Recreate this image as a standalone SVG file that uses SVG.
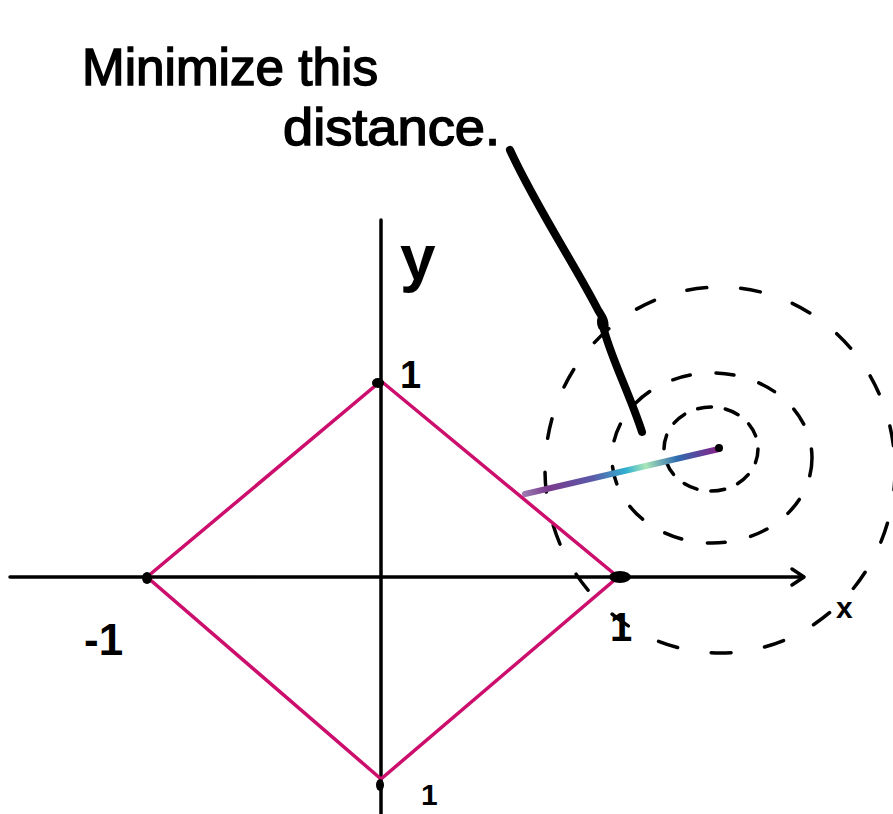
<svg xmlns="http://www.w3.org/2000/svg" width="893" height="814" viewBox="0 0 893 814">
<style>
.hand{font-family:"Liberation Sans","DejaVu Sans",sans-serif;fill:#000;}
.lbl{font-weight:bold;}
.axis{stroke:#000;stroke-width:3.5;fill:none;stroke-linecap:round;stroke-linejoin:round;}
.dash{stroke:#000;stroke-width:3.5;fill:none;stroke-linecap:round;}
.diamond{stroke:#cc0e6c;stroke-width:3.5;fill:none;stroke-linejoin:miter;}
</style>
<defs>
<linearGradient id="galaxy" gradientUnits="userSpaceOnUse" x1="524" y1="494" x2="720" y2="448">
<stop offset="0" stop-color="#9a7ab0"/>
<stop offset="0.12" stop-color="#7a3a8e"/>
<stop offset="0.35" stop-color="#5a5aa8"/>
<stop offset="0.52" stop-color="#30b0d0"/>
<stop offset="0.62" stop-color="#a8e6b8"/>
<stop offset="0.78" stop-color="#2e6cb0"/>
<stop offset="1" stop-color="#8a1e86"/>
</linearGradient>
</defs>
<rect width="893" height="814" fill="#fff"/>

<g id="title">
<text class="hand" x="82" y="85" font-size="52" stroke="#000" stroke-width="1.5" textLength="296" lengthAdjust="spacingAndGlyphs">Minimize this</text>
<text class="hand" x="283" y="145" font-size="52" stroke="#000" stroke-width="1.5" textLength="217" lengthAdjust="spacingAndGlyphs">distance.</text>
</g>

<g id="level-sets">
<ellipse class="dash" cx="711" cy="449" rx="47" ry="42" stroke-dasharray="14 14"/>
<ellipse class="dash" cx="712" cy="458" rx="100" ry="85" stroke-dasharray="18 26"/>
<ellipse class="dash" cx="720" cy="470" rx="175" ry="183" stroke-dasharray="20 34"/>
</g>

<g id="connectors">
<g id="x-axis">
<line class="axis" x1="10" y1="577" x2="803" y2="577"/>
<polyline class="axis" points="792,569 804,577 792,585"/>
</g>
<g id="y-axis">
<line class="axis" x1="381" y1="220" x2="381" y2="814"/>
</g>
<path id="pointer" d="M510,150 C535,205 575,265 598,310 C603,318 606,322 604,330 C612,360 630,395 642,432" stroke="#000" stroke-width="8" fill="none" stroke-linecap="round"/>
<ellipse cx="602" cy="322" rx="5" ry="9" fill="#000"/>
<line id="distance" x1="525" y1="494" x2="719" y2="449" stroke="url(#galaxy)" stroke-width="6" stroke-linecap="round"/>
</g>

<g id="diamond">
<polygon class="diamond" points="381,381 618,577 381,779 147,577"/>
</g>

<g id="vertices">
<ellipse cx="378" cy="383" rx="6" ry="5" fill="#000"/>
<ellipse cx="147" cy="578" rx="5" ry="6" fill="#000"/>
<ellipse cx="620" cy="577" rx="11" ry="6" fill="#000"/>
<ellipse cx="380" cy="785" rx="4" ry="6" fill="#000"/>
<circle cx="719" cy="448" r="4" fill="#000"/>
</g>

<g id="labels">
<text class="hand lbl" x="400" y="280" font-size="64">y</text>
<text class="hand lbl" x="836" y="618" font-size="30">x</text>
<text class="hand lbl" x="400" y="388" font-size="38">1</text>
<text class="hand lbl" x="84" y="655" font-size="44">-1</text>
<text class="hand lbl" x="610" y="641" font-size="40">1</text>
<text class="hand lbl" x="421" y="805" font-size="30">1</text>
</g>
</svg>
